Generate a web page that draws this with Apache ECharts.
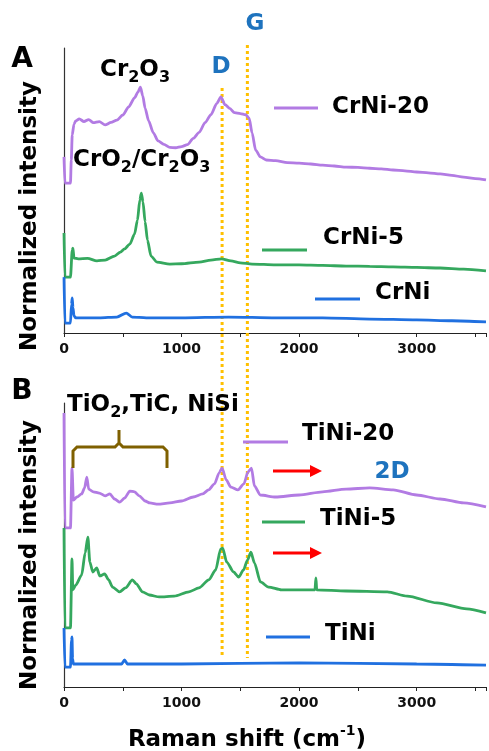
<!DOCTYPE html>
<html><head><meta charset="utf-8">
<script src="https://cdn.jsdelivr.net/npm/echarts@6/dist/echarts.min.js"></script>
<style>html,body{margin:0;padding:0;background:#fff}#c{width:489px;height:751px}</style>
</head><body><div id="c"></div>
<script>
// Raman shift ticks
const xTicks = [0, 1000, 2000, 3000];
const peakD = 1345, peakG = 1560;
// Panel A: CrNi-20
const crNi20X = [0,8,55,62,70,85,100,130,170,210,250,300,350,400,450,500,550,600,630,650,670,690,720,760,800,850,900,950,1000,1050,1100,1150,1200,1250,1300,1335,1370,1410,1450,1500,1545,1575,1600,1630,1670,1720,1800,1900,2000,2100,2200,2300,2400,2500,2600,2700,2800,2900,3000,3100,3200,3300,3400,3500,3590];
const crNi20Y = [61.8,52.6,52.6,60.7,69.5,73.3,74.4,75.1,74.2,74.9,73.8,74.2,73.0,73.9,74.7,76.5,79.3,82.5,84.6,86.3,83.2,78.9,74.4,70.2,67.4,66.2,65.1,65.0,65.4,66.1,68.3,70.4,73.8,76.6,80.6,82.8,80.1,78.8,77.3,77.0,76.6,75.4,70.2,64.2,61.8,60.7,60.5,59.8,59.6,59.3,58.9,58.6,58.2,58.1,57.8,57.6,57.2,56.9,56.5,56.2,55.8,55.3,54.7,54.2,53.7];
// Panel A: CrNi-5
const crNi5X = [0,8,55,70,76,85,120,200,280,350,430,480,515,560,600,625,645,658,672,690,710,740,790,900,1000,1150,1250,1340,1420,1500,1600,1800,2000,2200,2400,2600,2800,3000,3200,3400,3590];
const crNi5Y = [35.1,19.6,19.6,29.1,29.8,26.3,26.0,26.2,25.3,25.6,27.0,28.4,29.5,31.2,34.7,39.6,46.7,49.1,46.0,39.0,32.6,27.0,24.9,24.2,24.3,24.9,25.6,26.0,25.3,24.6,24.2,23.9,23.9,23.7,23.5,23.4,23.2,23.0,22.8,22.4,21.8];
// Panel A: CrNi
const crNiX = [0,8,55,64,70,76,85,100,300,450,530,580,700,1000,1400,1800,2200,2600,3000,3300,3590];
const crNiY = [19.6,3.5,3.5,10.0,12.3,9.0,6.0,5.3,5.3,5.6,7.0,5.6,5.3,5.3,5.6,5.3,5.3,4.9,4.6,4.3,3.9];
// Panel B: TiNi-20
const tiNi20X = [0,8,55,68,80,110,150,175,194,210,250,300,350,390,430,475,515,560,600,640,690,730,800,900,1000,1100,1180,1230,1280,1320,1345,1380,1420,1480,1530,1565,1595,1620,1670,1800,2000,2200,2400,2600,2800,3000,3200,3400,3590];
const tiNi20Y = [96.5,56.0,56.0,77.1,65.8,66.9,68.0,70.1,73.9,69.7,68.7,68.3,67.3,68.0,66.2,65.1,66.5,69.0,68.7,67.3,65.5,64.8,64.4,64.8,65.5,66.9,68.0,69.4,71.5,75.4,77.1,72.9,70.4,69.4,71.5,75.7,77.1,70.8,67.6,66.9,67.6,68.7,69.7,70.1,69.4,67.6,66.2,64.8,63.4];
// Panel B: TiNi-5
const tiNi5X = [0,8,55,68,75,100,150,180,203,220,245,278,305,346,380,413,473,523,582,616,667,726,810,937,1063,1148,1232,1290,1333,1350,1384,1443,1485,1527,1561,1590,1620,1671,1740,1850,2000,2135,2143,2150,2400,2750,2920,3173,3426,3590];
const tiNi5Y = [56.0,20.8,20.8,45.1,34.2,35.9,39.4,47.2,52.8,44.0,40.5,41.9,39.1,39.8,37.7,35.2,33.5,34.9,37.7,36.3,33.5,32.4,31.7,32.0,33.5,34.9,37.7,41.2,48.6,48.9,44.0,40.5,38.7,41.2,44.7,47.5,43.7,37.0,35.2,34.2,34.2,34.2,38.4,34.2,33.8,33.5,32.0,29.6,27.5,26.1];
// Panel B: TiNi
const tiNiX = [0,8,55,64,68,73,80,300,490,515,540,1000,2000,3000,3590];
const tiNiY = [20.8,7.0,7.0,16.5,17.6,10.0,8.1,8.1,8.1,9.5,8.1,8.1,8.5,8.1,7.7];

const PURPLE='#B27BE3', GREEN='#35A85E', BLUE='#2070E0', LBLUE='#1E73BE', ORANGE='#FFC000', BROWN='#7F6000';
const F='DejaVu Sans';
const zip=(xs,ys)=>xs.map((x,i)=>[x,ys[i]]);

const chart = echarts.init(document.getElementById('c'), null, {renderer:'canvas'});
function xAx(gi){
  return {type:'value', gridIndex:gi, min:0, max:3590, interval:1000,
    axisLine:{show:true, lineStyle:{color:'#222', width:1.2}},
    axisTick:{show:true, inside:false, length:4, lineStyle:{color:'#222'}},
    minorTick:{show:true, splitNumber:2, length:4, lineStyle:{color:'#222'}},
    splitLine:{show:false},
    axisLabel:{fontFamily:F, fontWeight:'bold', fontSize:14, color:'#111', margin:9,
      formatter:v=> xTicks.indexOf(v)>=0 ? String(v) : ''}};
}
function yAx(gi){
  return {type:'value', gridIndex:gi, min:0, max:100, axisLine:{show:true, lineStyle:{color:'#333', width:1.2}},
    axisTick:{show:false}, axisLabel:{show:false}, splitLine:{show:false}};
}
function ser(name, gi, xs, ys, color){
  return {name, type:'line', xAxisIndex:gi, yAxisIndex:gi, data:zip(xs,ys), showSymbol:false,
    smooth:0.25, smoothMonotone:'x',
    lineStyle:{color, width:2.8}, itemStyle:{color}, z:3};
}
const option = {
  animation:false,
  grid:[{left:64, top:48, width:425, height:285},{left:64, top:403, width:425, height:284}],
  xAxis:[xAx(0), xAx(1)],
  yAxis:[yAx(0), yAx(1)],
  series:[
    ser('CrNi-20',0,crNi20X,crNi20Y,PURPLE),
    ser('CrNi-5',0,crNi5X,crNi5Y,GREEN),
    ser('CrNi',0,crNiX,crNiY,BLUE),
    ser('TiNi-20',1,tiNi20X,tiNi20Y,PURPLE),
    ser('TiNi-5',1,tiNi5X,tiNi5Y,GREEN),
    ser('TiNi',1,tiNiX,tiNiY,BLUE)
  ]
};
chart.setOption(option);

const dPx = chart.convertToPixel({xAxisIndex:0}, peakD);
const gPx = chart.convertToPixel({xAxisIndex:0}, peakG);
const RICH = {
  a:{fontFamily:F, fontWeight:'bold', fontSize:23, lineHeight:32, fill:'#000'},
  s:{fontFamily:F, fontWeight:'bold', fontSize:16, lineHeight:16, verticalAlign:'bottom', fill:'#000'},
  p:{fontFamily:F, fontWeight:'bold', fontSize:14, lineHeight:14, verticalAlign:'top', fill:'#000'}
};
function txt(x,y,t,opt){
  return {type:'text', x, y, z:10, style:Object.assign({text:t, fontFamily:F, fontWeight:'bold', fontSize:23, fill:'#000', align:'left', verticalAlign:'middle'}, opt||{})};
}
function rtxt(x,y,t,opt){
  return {type:'text', x, y, z:10, style:Object.assign({text:t, rich:RICH, align:'left', verticalAlign:'middle'}, opt||{})};
}
function leg(x1,x2,y,color){ return {type:'line', z:10, shape:{x1,y1:y,x2,y2:y}, style:{stroke:color, lineWidth:3}}; }
function arrow(x1,x2,y){
  return [{type:'line', z:10, shape:{x1,y1:y,x2:x2-11,y2:y}, style:{stroke:'#FF0000', lineWidth:3}},
          {type:'polygon', z:10, shape:{points:[[x2-12,y-6],[x2,y],[x2-12,y+6]]}, style:{fill:'#FF0000'}}];
}
const g = [
  {type:'line', z:2, shape:{x1:dPx,y1:88,x2:dPx,y2:658}, style:{stroke:ORANGE, lineWidth:3, lineDash:[3,3]}},
  {type:'line', z:2, shape:{x1:gPx,y1:45,x2:gPx,y2:658}, style:{stroke:ORANGE, lineWidth:3, lineDash:[3,3]}},
  txt(22,60,'A',{fontSize:28, align:'center'}),
  txt(22,392,'B',{fontSize:28, align:'center'}),
  txt(255,24,'G',{fill:LBLUE, align:'center'}),
  txt(221,67,'D',{fill:LBLUE, align:'center'}),
  txt(392,472,'2D',{fill:LBLUE, align:'center'}),
  rtxt(100,70,'{a|Cr}{s|2}{a|O}{s|3}'),
  rtxt(73,160,'{a|CrO}{s|2}{a|/Cr}{s|2}{a|O}{s|3}'),
  rtxt(67,405,'{a|TiO}{s|2}{a|,TiC, NiSi}'),
  leg(274,318,108,PURPLE), txt(332,107,'CrNi-20'),
  leg(262,307,250,GREEN), txt(323,238,'CrNi-5'),
  leg(315,360,299,BLUE), txt(375,293,'CrNi'),
  leg(243,288,442,PURPLE), txt(302,434,'TiNi-20'),
  leg(262,305,522,GREEN), txt(320,519,'TiNi-5'),
  leg(266,310,637,BLUE), txt(325,634,'TiNi'),
  {type:'polyline', z:10, shape:{points:[[73,468],[73,451],[77,447],[115,447],[119,443],[119,430],[119,443],[123,447],[163,447],[167,451],[167,468]]}, style:{stroke:BROWN, lineWidth:3, fill:null}},
  ...arrow(273,322,471),
  ...arrow(273,322,553),
  txt(30,216,'Normalized intensity',{align:'center'}),
  txt(30,555,'Normalized intensity',{align:'center'}),
  rtxt(247,740,'{a|Raman shift (cm}{p|-1}{a|)}',{align:'center'})
];
g[g.length-3].rotation = Math.PI/2;
g[g.length-2].rotation = Math.PI/2;
chart.setOption({graphic:{elements:g}});
</script></body></html>
